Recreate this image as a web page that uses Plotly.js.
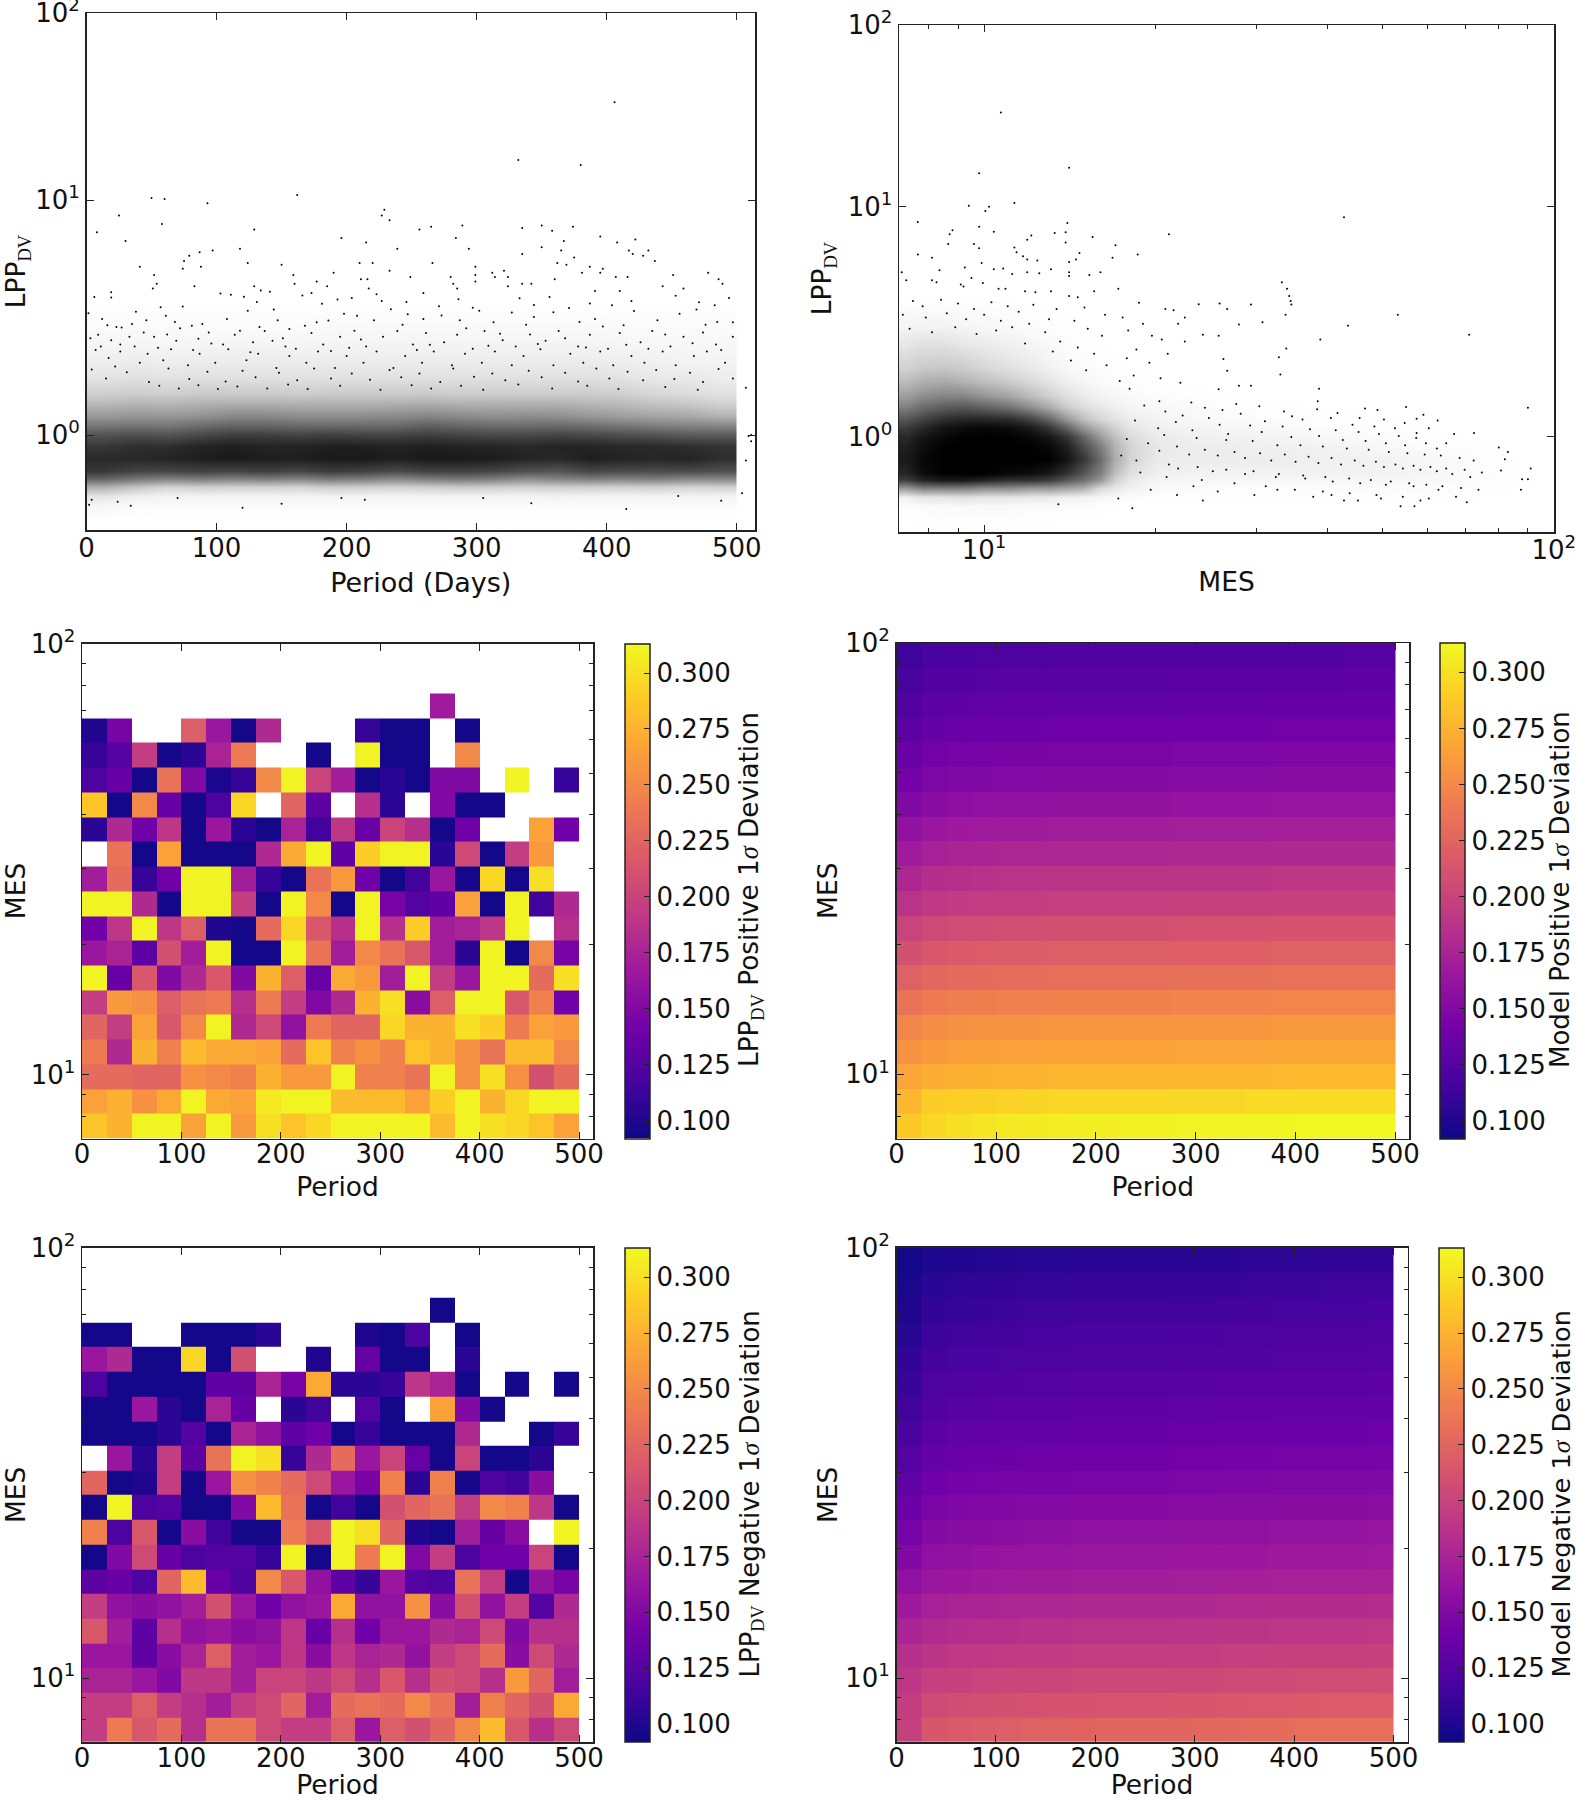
<!DOCTYPE html>
<html><head><meta charset="utf-8">
<script src="https://cdn.plot.ly/plotly-3.0.1.min.js"></script>
<style>html,body{margin:0;padding:0;background:#fff}</style></head>
<body><div id="chart" style="width:1576px;height:1800px"></div>
<script>
const periodTicks=[0,100,200,300,400,500];
const colorbarTicks=[0.1,0.125,0.15,0.175,0.2,0.225,0.25,0.275,0.3];
const periodEdges=[0,25,50,75,100,125,150,175,200,225,250,275,300,325,350,375,400,425,450,475,500];
const mesEdges=[7.1,8.1,9.25,10.55,12.04,13.74,15.68,17.9,20.4,23.3,26.6,30.4,34.7,39.5,45.1,51.5,58.8,67.1,76.6,87.4,100];
const _=null;
// observed deviation, rows listed from the top row (MES 100) to the bottom row
const observedPositive=[
[_,_,_,_,_,_,_,_,_,_,_,_,_,_,_,_,_,_,_,_],
[_,_,_,_,_,_,_,_,_,_,_,_,_,_,_,_,_,_,_,_],
[_,_,_,_,_,_,_,_,_,_,_,_,_,_,.168,_,_,_,_,_],
[.1,.145,_,_,.22,.165,.095,.18,_,_,_,.11,.095,.095,_,.095,_,_,_,_],
[.11,.125,.195,.095,.105,.175,.24,_,_,.095,_,.31,.095,.095,_,.25,_,_,_,_],
[.12,.135,.095,.235,.15,.098,.11,.25,.31,.2,.17,.095,.105,.095,.15,.15,_,.31,_,.11],
[.285,.095,.25,.135,.095,.12,.295,_,.225,.13,_,.185,.105,_,.15,.095,.095,_,_,_],
[.105,.18,.14,.19,.095,.165,.105,.095,.175,.115,.19,.135,.2,.185,.095,.14,_,_,.265,.14],
[_,.235,.095,.265,.095,.095,.095,.18,.27,.31,.13,.29,.31,.31,.105,.205,.095,.195,.26,_],
[.17,.23,.11,.14,.31,.31,.17,.11,.095,.235,.26,.14,.095,.115,.165,.095,.295,.095,.3,_],
[.31,.31,.18,.095,.31,.31,.195,.095,.31,.25,.095,.31,.145,.125,.13,.265,.095,.31,.115,.18],
[.14,.19,.31,.19,.22,.1,.095,.23,.295,.215,.185,.31,.185,.29,.17,.175,.19,.31,_,.185],
[.165,.175,.13,.21,.17,.31,.095,.095,.31,.235,.17,.25,.235,.215,.17,.105,.31,.095,.25,.145],
[.31,.135,.215,.15,.18,.215,.15,.275,.22,.135,.27,.26,.17,.31,.195,.165,.31,.31,.23,.3],
[.195,.26,.255,.22,.235,.24,.185,.24,.195,.15,.18,.275,.3,.155,.22,.31,.31,.215,.245,.14],
[.225,.195,.265,.215,.25,.31,.18,.205,.16,.24,.225,.225,.295,.275,.275,.3,.29,.24,.265,.26],
[.24,.18,.275,.245,.28,.27,.27,.265,.23,.285,.245,.255,.245,.285,.275,.255,.235,.28,.28,.25],
[.23,.23,.225,.225,.255,.25,.245,.275,.26,.26,.31,.245,.245,.235,.31,.255,.3,.255,.21,.23],
[.265,.275,.255,.27,.31,.27,.265,.305,.31,.31,.28,.28,.28,.265,.29,.31,.275,.295,.31,.31],
[.285,.275,.31,.31,.265,.31,.26,.3,.285,.295,.31,.31,.31,.31,.28,.31,.3,.295,.285,.265]];
const observedNegative=[
[_,_,_,_,_,_,_,_,_,_,_,_,_,_,_,_,_,_,_,_],
[_,_,_,_,_,_,_,_,_,_,_,_,_,_,_,_,_,_,_,_],
[_,_,_,_,_,_,_,_,_,_,_,_,_,_,.095,_,_,_,_,_],
[.095,.095,_,_,.095,.095,.095,.105,_,_,_,.1,.095,.12,_,.095,_,_,_,_],
[.165,.18,.095,.095,.295,.095,.21,_,_,.1,_,.135,.095,.095,_,.105,_,_,_,_],
[.12,.095,.095,.095,.095,.13,.13,.175,.145,.27,.105,.105,.11,.19,.175,.095,_,.095,_,.095],
[.095,.095,.165,.105,.095,.175,.135,_,.105,.115,_,.125,.095,_,.265,.15,.095,_,_,_],
[.095,.095,.095,.105,.125,.095,.175,.16,.13,.14,.095,.11,.095,.095,.095,.18,_,_,.095,.11],
[_,.165,.105,.195,.13,.235,.31,.3,.11,.18,.23,.165,.2,.135,.095,.2,.095,.095,.105,_],
[.225,.095,.1,.195,.095,.165,.255,.245,.23,.205,.165,.145,.245,.105,.245,.095,.12,.115,.155,_],
[.095,.31,.12,.125,.095,.095,.15,.28,.235,.095,.115,.095,.21,.225,.235,.195,.25,.245,.19,.095],
[.245,.12,.215,.095,.155,.115,.095,.095,.24,.215,.31,.3,.225,.1,.095,.17,.135,.155,_,.31],
[.095,.15,.205,.135,.12,.125,.125,.11,.31,.095,.31,.24,.31,.15,.195,.12,.14,.14,.2,.095],
[.13,.135,.12,.225,.28,.135,.12,.25,.215,.16,.13,.11,.165,.125,.12,.235,.195,.095,.16,.145],
[.195,.16,.155,.16,.17,.21,.165,.14,.16,.165,.27,.16,.16,.255,.155,.21,.16,.195,.125,.18],
[.215,.17,.13,.185,.16,.165,.155,.16,.19,.135,.185,.14,.165,.165,.18,.175,.205,.15,.185,.185],
[.165,.165,.13,.155,.175,.22,.17,.165,.19,.155,.19,.175,.18,.16,.195,.205,.23,.155,.205,.18],
[.175,.175,.165,.15,.19,.19,.17,.2,.2,.19,.205,.185,.215,.185,.21,.205,.185,.26,.225,.17],
[.195,.195,.22,.195,.185,.17,.195,.205,.225,.17,.23,.235,.23,.25,.235,.17,.245,.225,.21,.27],
[.195,.24,.215,.23,.185,.235,.235,.205,.195,.195,.22,.165,.22,.21,.225,.25,.28,.215,.185,.205]];
const modelPositive=[
[.114,.118,.119,.12,.121,.121,.122,.122,.122,.122,.122,.123,.123,.123,.124,.124,.124,.124,.125,.125],
[.118,.123,.124,.125,.126,.126,.127,.127,.127,.127,.127,.128,.128,.128,.129,.129,.129,.129,.13,.13],
[.123,.128,.13,.131,.132,.132,.133,.133,.133,.133,.133,.134,.134,.134,.134,.135,.135,.135,.135,.135],
[.129,.134,.136,.137,.138,.138,.139,.139,.139,.139,.139,.14,.14,.14,.14,.141,.141,.141,.141,.141],
[.136,.141,.143,.144,.145,.145,.146,.146,.146,.146,.146,.147,.147,.147,.147,.148,.148,.148,.148,.148],
[.142,.147,.149,.15,.151,.151,.152,.152,.152,.152,.152,.153,.153,.153,.153,.154,.154,.154,.154,.154],
[.15,.155,.157,.158,.159,.159,.16,.16,.16,.16,.16,.161,.161,.161,.161,.162,.162,.162,.162,.162],
[.16,.165,.167,.168,.169,.169,.17,.17,.17,.17,.17,.171,.171,.171,.171,.172,.172,.172,.172,.172],
[.168,.173,.175,.176,.177,.177,.178,.178,.178,.178,.178,.179,.179,.179,.179,.18,.18,.18,.18,.18],
[.178,.183,.185,.186,.187,.187,.188,.188,.188,.188,.188,.189,.189,.189,.189,.19,.19,.19,.19,.19],
[.187,.192,.194,.195,.196,.196,.197,.197,.197,.197,.197,.198,.198,.198,.198,.199,.199,.199,.199,.199],
[.2,.205,.207,.208,.209,.209,.21,.21,.21,.21,.21,.211,.211,.211,.211,.212,.212,.212,.212,.212],
[.21,.215,.217,.218,.219,.219,.22,.22,.22,.22,.22,.221,.221,.221,.221,.222,.222,.222,.222,.222],
[.222,.227,.229,.23,.231,.231,.232,.232,.232,.232,.232,.233,.233,.233,.233,.234,.234,.234,.234,.234],
[.235,.24,.242,.243,.244,.244,.245,.245,.245,.245,.245,.246,.246,.246,.246,.247,.247,.247,.247,.247],
[.248,.253,.255,.256,.257,.257,.258,.258,.258,.258,.258,.259,.259,.259,.259,.26,.26,.26,.26,.26],
[.256,.261,.263,.264,.265,.265,.266,.266,.266,.266,.266,.267,.267,.267,.267,.268,.268,.268,.268,.268],
[.267,.272,.274,.275,.276,.276,.277,.277,.277,.277,.277,.278,.278,.278,.278,.279,.279,.279,.279,.279],
[.278,.29,.291,.292,.293,.294,.295,.295,.295,.295,.295,.296,.296,.296,.297,.297,.298,.298,.298,.298],
[.288,.296,.3,.303,.305,.306,.307,.308,.308,.309,.309,.31,.31,.31,.311,.311,.312,.312,.312,.312]];
const modelNegative=[
[.094,.099,.1,.101,.102,.103,.103,.104,.104,.104,.104,.105,.105,.105,.106,.106,.106,.107,.107,.107],
[.097,.104,.106,.107,.108,.109,.109,.11,.11,.11,.11,.111,.111,.111,.112,.112,.112,.113,.113,.113],
[.1,.108,.11,.111,.112,.113,.113,.114,.114,.114,.114,.115,.115,.116,.116,.117,.117,.117,.117,.118],
[.103,.112,.114,.115,.116,.117,.117,.118,.118,.118,.118,.119,.119,.12,.12,.121,.121,.121,.121,.122],
[.108,.116,.118,.119,.12,.121,.121,.122,.122,.122,.122,.123,.123,.124,.124,.125,.125,.125,.125,.126],
[.111,.12,.122,.123,.124,.125,.125,.126,.126,.126,.126,.127,.127,.128,.128,.129,.129,.129,.129,.13],
[.115,.124,.126,.127,.128,.129,.129,.13,.13,.13,.13,.131,.131,.132,.132,.133,.133,.133,.133,.134],
[.119,.129,.131,.132,.133,.134,.134,.135,.135,.135,.135,.136,.136,.137,.137,.138,.138,.138,.138,.139],
[.125,.134,.136,.137,.138,.139,.139,.14,.14,.14,.14,.141,.141,.142,.142,.143,.143,.143,.143,.144],
[.131,.14,.142,.143,.144,.145,.145,.146,.146,.146,.146,.147,.147,.148,.148,.149,.149,.149,.149,.15],
[.137,.146,.148,.149,.15,.151,.151,.152,.152,.152,.152,.153,.153,.154,.154,.155,.155,.155,.155,.156],
[.143,.152,.154,.155,.156,.157,.157,.158,.158,.158,.158,.159,.159,.16,.16,.161,.161,.161,.161,.162],
[.15,.158,.16,.161,.162,.163,.163,.164,.164,.164,.164,.165,.165,.166,.166,.167,.167,.167,.167,.168],
[.158,.164,.166,.167,.168,.169,.169,.17,.17,.17,.17,.171,.171,.172,.172,.173,.173,.173,.173,.174],
[.167,.173,.175,.176,.177,.178,.178,.179,.179,.179,.179,.18,.18,.181,.181,.182,.182,.182,.182,.183],
[.176,.181,.183,.184,.185,.186,.186,.187,.187,.187,.187,.188,.188,.189,.189,.19,.19,.19,.19,.191],
[.184,.189,.191,.192,.193,.194,.194,.195,.195,.195,.195,.196,.196,.197,.197,.198,.198,.198,.198,.199],
[.19,.197,.199,.2,.201,.202,.202,.203,.203,.203,.203,.204,.204,.205,.206,.206,.207,.207,.207,.208],
[.196,.206,.208,.209,.21,.211,.212,.212,.213,.213,.213,.214,.214,.215,.216,.216,.217,.218,.218,.218],
[.198,.214,.217,.219,.22,.222,.223,.224,.225,.225,.226,.226,.227,.228,.229,.23,.232,.232,.232,.232]];
// ink coverage of the dense point clouds, read as grey level from the picture
const bandPeriod=[12.5,37.5,62.5,87.5,112.5,137.5,162.5,187.5,212.5,237.5,262.5,287.5,312.5,337.5,362.5,387.5,412.5,437.5,462.5,487.5];
const bandLpp=[.44,.5,.55,.6,.65,.7,.8,.9,1,1.1,1.2,1.35,1.5,1.75,2,2.5,3,3.6];
const bandPeriodInk=[
[0,0,0,0,0,0,0,0,0,0,0,0,0,0,0,0,0,0,0,0],
[.03,.015,.01,.01,.01,.01,.01,.01,.01,.01,.01,.01,.01,.01,.01,.01,.01,.01,.01,.01],
[.1,.06,.04,.045,.04,.04,.04,.045,.04,.04,.045,.045,.04,.04,.05,.04,.04,.045,.04,.04],
[.3,.22,.16,.18,.17,.17,.16,.19,.18,.17,.18,.2,.18,.17,.18,.18,.17,.18,.16,.17],
[.6,.52,.47,.5,.47,.49,.47,.51,.49,.45,.49,.52,.49,.43,.47,.49,.47,.49,.45,.45],
[.78,.73,.72,.74,.72,.75,.72,.76,.74,.7,.74,.74,.72,.68,.66,.72,.7,.7,.7,.68],
[.84,.84,.86,.88,.9,.88,.88,.9,.9,.88,.9,.9,.89,.86,.84,.88,.86,.85,.86,.82],
[.78,.82,.82,.86,.88,.86,.86,.88,.88,.86,.88,.86,.86,.84,.86,.86,.84,.84,.82,.8],
[.68,.7,.68,.72,.76,.76,.74,.76,.74,.74,.76,.74,.72,.72,.74,.72,.7,.68,.65,.65],
[.53,.54,.53,.57,.6,.6,.58,.58,.58,.58,.62,.59,.57,.57,.58,.56,.53,.5,.48,.47],
[.4,.42,.41,.43,.47,.47,.45,.45,.45,.46,.48,.46,.44,.45,.44,.41,.38,.36,.34,.3],
[.28,.3,.29,.31,.32,.32,.31,.31,.31,.32,.33,.31,.31,.31,.31,.29,.27,.24,.22,.18],
[.19,.2,.19,.21,.21,.21,.2,.21,.21,.21,.21,.2,.2,.2,.2,.2,.19,.16,.14,.12],
[.11,.12,.11,.12,.12,.12,.12,.12,.12,.12,.12,.12,.12,.12,.12,.12,.11,.09,.09,.07],
[.07,.08,.07,.08,.08,.08,.08,.08,.08,.08,.08,.08,.08,.08,.08,.08,.07,.06,.05,.05],
[.035,.035,.03,.035,.035,.035,.035,.04,.04,.04,.04,.04,.04,.04,.04,.04,.035,.03,.03,.03],
[.015,.015,.015,.015,.015,.015,.015,.02,.02,.02,.02,.02,.02,.02,.02,.02,.015,.015,.015,.015],
[0,0,0,0,0,0,0,0,0,0,0,0,0,0,0,0,0,0,0,0]];
const bandMes=[7.3,7.8,8.5,9.2,10,11,12,13,14,15,16,17,18,20,23,27,32,40,50,60,75,90];
const bandMesLpp=[.42,.5,.55,.6,.65,.7,.8,.9,1,1.1,1.2,1.35,1.5,1.75,2,2.5,3,4];
const bandMesInk=[
[0,0,0,0,0,0,0,0,0,0,0,0,0,0,0,0,0,0,0,0,0,0],
[.01,.015,.02,.02,.02,.02,.015,.015,.01,.01,.005,0,0,0,0,0,0,0,0,0,0,0],
[.05,.1,.1,.12,.1,.1,.08,.08,.06,.05,.03,.02,.01,.005,.005,.003,.003,.004,.005,.005,.002,0],
[.4,.5,.5,.5,.45,.45,.4,.4,.35,.3,.15,.08,.05,.02,.012,.01,.01,.012,.014,.012,.005,0],
[.75,.85,.9,.9,.85,.8,.8,.75,.65,.55,.4,.18,.08,.035,.03,.03,.03,.03,.03,.025,.01,0],
[.85,.95,1,1,1,.97,.95,.9,.8,.65,.5,.25,.12,.06,.05,.05,.05,.05,.05,.035,.012,0],
[.9,.97,1,1,1,1,1,1,.92,.78,.58,.32,.17,.08,.07,.07,.07,.06,.05,.03,.008,0],
[.88,.95,1,1,1,1,1,.97,.88,.7,.52,.3,.17,.09,.07,.07,.06,.05,.03,.015,.004,0],
[.84,.92,.97,1,1,1,.97,.92,.8,.6,.4,.25,.14,.08,.06,.055,.045,.03,.015,.006,0,0],
[.76,.84,.92,.95,.97,.95,.9,.78,.6,.4,.27,.17,.1,.06,.045,.035,.025,.012,.006,.002,0,0],
[.66,.74,.82,.85,.85,.83,.75,.6,.4,.25,.16,.11,.07,.045,.03,.02,.012,.005,.002,0,0,0],
[.5,.58,.64,.66,.62,.56,.45,.33,.2,.13,.09,.06,.04,.03,.02,.008,.003,.002,0,0,0,0],
[.38,.45,.48,.48,.42,.36,.27,.19,.12,.08,.05,.03,.02,.012,.006,.002,0,0,0,0,0,0],
[.26,.31,.33,.3,.25,.2,.15,.1,.06,.035,.02,.012,.006,.003,0,0,0,0,0,0,0,0],
[.18,.21,.22,.2,.16,.12,.09,.055,.03,.018,.01,.005,.002,0,0,0,0,0,0,0,0,0],
[.1,.12,.12,.1,.08,.06,.04,.025,.012,.006,.003,0,0,0,0,0,0,0,0,0,0,0],
[.04,.05,.05,.04,.03,.025,.012,.008,.004,0,0,0,0,0,0,0,0,0,0,0,0,0],
[0,0,0,0,0,0,0,0,0,0,0,0,0,0,0,0,0,0,0,0,0,0]];
// individually visible points: [period, LPP]
const periodPoints=[[406,26.1],[332,14.8],[380,14.1],[50,10.2],[60,10.1],[162,10.5],[93,9.7],[229,9.1],[227,8.6],[233,8.2],[25,8.6],[58,7.9],[8,7.3],[129,7.5],[256,7.5],[265,7.7],[289,7.8],[335,7.6],[350,7.8],[358,7.4],[374,7.7],[30,6.7],[284,6.9],[196,6.9],[395,7],[215,6.6],[367,6.7],[422,6.8],[408,6.6],[239,6.2],[294,6.2],[350,6.3],[365,6.1],[335,5.9],[118,6.2],[97,6.1],[87,6],[79,5.8],[75,5.5],[74,5.1],[417,6.1],[420,5.9],[432,6.1],[428,5.8],[437,5.5],[266,5.4],[375,5.7],[362,5.4],[369,5.3],[387,5.2],[124,5.4],[210,5.4],[220,5.4],[41,5.2],[88,5.2],[150,5.3],[299,5.2],[397,5.1],[381,4.9],[395,4.9],[233,5],[312,4.9],[321,5],[52,4.8],[159,4.8],[190,4.9],[249,4.7],[280,4.7],[299,4.8],[314,4.7],[324,4.7],[360,4.6],[407,4.7],[416,4.7],[451,4.8],[478,4.9],[486,4.6],[489,4.4],[54,4.4],[51,4.2],[83,4.3],[129,4.3],[160,4.4],[177,4.5],[185,4.3],[211,4.6],[216,4.6],[217,4.2],[282,4.4],[285,4.2],[299,4.5],[324,4.3],[335,4.4],[342,4.4],[443,4.3],[459,4.2],[410,4.1],[391,4.1],[19,4.05],[19,3.85],[6,3.87],[1.5,3.3],
[507,1.59],[509,.99],[511,1],[511,.94],[507,.78],[504,.565],[415,.485],[342,.513],[120,.49],[150,.51],[2,.505],[34,.5],[488,.525],[4,.53],[24,.52],[70,.54],[214,.53],[305,.54],[455,.55],[196,.54],
[103,4],[111,3.95],[121,3.88],[134,4.12],[141,4.07],[131,3.68],[166,3.93],[173,4.02],[181,3.62],[193,3.77],[204,3.83],[223,3.97],[227,3.72],[246,3.68],[259,4.02],[271,3.53],[286,3.78],[297,3.48],[333,3.82],[344,3.58],[356,3.87],[371,3.47],[387,3.63],[404,3.57],[419,3.72],[453,3.92],[471,3.67],[483,3.57],[494,3.83],
[57,3.5],[38,3.35],[46,3.08],[61,3.22],[74,3.52],[68,3.03],[81,2.92],[89,2.97],[108,3.12],[124,3.38],[144,3.42],[147,3.08],[133,2.88],[156,2.83],[177,3.02],[186,3.07],[198,3.28],[208,3.22],[221,3.08],[234,3.43],[247,3.27],[259,3.12],[273,3.23],[287,3.08],[302,3.38],[313,3.02],[327,3.32],[344,3.18],[359,3.33],[379,3.03],[391,3.12],[413,2.93],[421,3.37],[439,3.08],[456,3.28],[469,3.42],[485,3.03],[497,3.02],[12,3.12],[16,2.93],[23,2.88],[27,2.87],[35,2.97],[3,2.58],[9,2.67],[19,2.53],[26,2.43],[37,2.38],[44,2.73],[52,2.62],[62,2.68],[69,2.52],[86,2.57],[94,2.73],[105,2.43],[114,2.67],[128,2.48],[137,2.77],[151,2.58],[161,2.33],[173,2.72],[182,2.43],[195,2.62],[206,2.78],[215,2.38],[228,2.62],[239,2.77],[251,2.43],[261,2.72],[275,2.48],[285,2.67],[297,2.33],[306,2.77],[320,2.53],[330,2.38],[341,2.68],[353,2.52],[363,2.77],[378,2.38],[387,2.67],[401,2.33],[410,2.72],[426,2.48],[435,2.77],[449,2.38],[459,2.62],[474,2.73],[484,2.43],[497,2.62],
[7,2.3],[17,2.13],[26,2.27],[41,2.03],[47,2.22],[59,2.08],[65,2.32],[78,1.98],[87,2.22],[99,2.03],[109,2.32],[123,2.08],[132,2.22],[146,1.93],[156,2.17],[169,2.03],[178,2.27],[191,1.93],[200,2.17],[213,2.03],[223,2.27],[236,1.93],[245,2.17],[258,2.03],[267,2.27],[281,1.98],[291,2.22],[304,2.03],[314,2.27],[327,1.98],[336,2.17],[349,2.32],[359,1.98],[372,2.22],[382,2.03],[395,2.27],[405,1.98],[419,2.17],[429,2.03],[443,2.27],[453,1.98],[467,2.17],[477,2.27],[491,2.03],
[33,2.62],[72,2.85],[96,2.45],[118,2.78],[143,2.52],[168,2.92],[188,2.28],[211,2.55],[243,2.95],[264,2.42],[292,2.85],[318,2.7],[338,2.95],[368,2.58],[397,2.9],[415,2.42],[445,2.68],[466,2.46],[476,2.95],[11,2.38],[55,2.35],[82,2.3],[126,2.25],[153,2.38],[202,2.35],[254,2.3],[309,2.4],[347,2.44],[384,2.36],[432,2.33],[488,2.3],
[4,1.9],[15,1.74],[31,1.85],[48,1.68],[63,1.92],[79,1.73],[93,1.86],[107,1.69],[120,1.88],[130,1.76],[148,1.84],[162,1.71],[175,1.92],[188,1.74],[204,1.83],[218,1.72],[233,1.89],[242,1.76],[256,1.83],[272,1.68],[282,1.92],[298,1.77],[312,1.83],[322,1.71],[340,1.88],[350,1.76],[368,1.84],[378,1.69],[392,1.92],[402,1.74],[416,1.86],[428,1.71],[438,1.89],[452,1.73],[464,1.84],[474,1.68],[486,1.91],[497,1.74],[22,1.96],[56,1.62],[71,1.58],[86,1.63],[101,1.57],[116,1.61],[139,1.58],[155,1.64],[170,1.57],[195,1.62],[226,1.56],[250,1.63],[265,1.58],[288,1.62],[305,1.56],[332,1.64],[358,1.58],[385,1.62],[409,1.57],[445,1.6],[470,1.56]];
// individually visible points: [MES, LPP]
const mesPoints=[[10.7,25.7],[14.1,14.8],[9.8,14],[11.3,10.4],[9.4,10.1],[10.2,10],[10.05,9.6],[42.8,9],[7.65,8.6],[14,8.5],[9.8,8.2],[8.8,7.9],[8.7,7.6],[10.4,7.8],[13.3,7.7],[13.9,7.75],[21.1,7.6],[12.1,7.5],[11.9,7.2],[15.5,7.4],[13.9,7],[8.65,6.9],[9.6,6.9],[9.8,6.6],[17,6.8],[11.3,6.65],[11.4,6.35],[18.6,6.2],[7.65,6.2],[8.1,6],[11.7,6.1],[11.9,5.9],[14.7,6.3],[16.8,6],[12.4,5.85],[14.5,5.9],[14.1,5.75],[9.9,5.7],[9.25,5.45],[8.35,5.3],[7.17,5.2],[10.4,5.35],[10.8,5.4],[11.2,5.1],[11.9,5.2],[12.5,5.15],[13.1,5.35],[14.1,5.2],[14.1,5],[15.3,5.05],[16,5.2],[7.3,4.8],[8.1,4.8],[8.25,4.7],[9.1,4.6],[9.2,4.5],[9.5,4.9],[9.95,4.67],[10.6,4.4],[10.9,4.4],[11.8,4.3],[12.3,4.25],[13.1,4.3],[14.1,4.1],[14.6,4.05],[15.6,4.3],[17.2,4.4],[33.3,4.7],[34,4.4],[34.3,4.1],[34.5,3.9],[34.6,3.76],[23.8,3.77],[25.9,3.8],[26.7,3.6],[29.4,3.76],[20.8,3.6],[21.5,3.55],[18.7,3.83],[22.5,3.3],[33.8,3.4],[53.2,3.4],[21.9,3.1],[28,3.08],[30.8,3.15],[43.5,3.04],[71,2.78],[24.2,2.78],[25.8,2.75],[22.5,2.6],[38.9,2.65],[33.9,2.42],[32.9,2.22],[26.3,2.18],[33.1,1.87],[26.7,1.94],[38.7,1.62],[25.8,1.61],[28,1.67],[29.4,1.67],[90,1.34],[55,1.35],[38.5,1.43],[46.6,1.33],[49,1.31],[57.4,1.2],[59,1.25],[62.5,1.18],[66.8,1.03],[72.4,1.04],[80,.9],[83,.86],[91,.73],[82,.8],[80.7,.714],[87.9,.655],[87.5,.59],[90,.655],[70.3,.52],[56.9,.5],[53.8,.5],[42.8,.53],
[7.5,3.9],[7.8,3.7],[8.4,3.95],[9,3.8],[9.6,3.6],[10.3,3.85],[11,3.7],[11.5,3.5],[12.2,3.75],[13.4,3.6],[15,3.65],[16.3,3.4],[17.5,3.3],[19,3.1],[17.9,2.9],[19.7,2.75],[20.5,2.65],[18.5,2.4],[15.2,2.95],[14.4,3.2],[13,3.25],[12,3.1],[11.2,3],[16.1,2.75],[21,2.3],[19.5,2.1],[17.8,2.2],[18.3,1.85],[20.4,1.8],[18,1.62],[17.3,1.75],[22.1,1.72],[16.4,2.05],[15.6,2.3],[14.6,2.45],[13.6,2.6],[14.2,2.15],[15.1,1.95],[7.2,3.4],[7.9,3.3],[8.6,3.45],[9.3,3.25],[10,3.4],[10.7,3.2],[7.4,2.95],[8.1,2.85],[8.9,3],[9.7,2.8],[10.5,2.9],[12.8,2.85],[13.2,2.35],[11.8,2.55],
[19.1,1.37],[20.3,1.43],[20.8,1.29],[22.3,1.24],[23.1,1.41],[24.4,1.34],[24.8,1.21],[26.2,1.31],[27.7,1.39],[28.2,1.26],[30.4,1.36],[31.1,1.17],[33.6,1.29],[34.7,1.23],[36.2,1.19],[38.4,1.32],[40.6,1.21],[41.7,1.27],[44.3,1.13],[45.6,1.21],[48.4,1.11],[50.3,1.19],[52.6,1.09],[54.7,1.15],[57.4,1.04],[60.3,1.09],[18.4,1.18],[20.2,1.09],[21.7,1.16],[23.2,1.07],[25.9,1.13],[26.8,1.03],[29.3,1.12],[30.7,1.05],[33.4,1.11],[34.6,1],[37.3,1.08],[38.7,1.01],[41.4,1.07],[42.6,.97],[45.4,1.05],[46.7,.96],[49.3,1.03],[50.7,.94],[53.4,1.01],[54.8,.92],[57.3,.99],[59.6,.94],[62.3,.89],[64.7,.94],[17.8,.98],[19.4,.94],[20.7,1.02],[21.8,.91],[23.6,.99],[24.4,.88],[26.6,.97],[27.5,.86],[29.6,.96],[30.5,.85],[32.7,.92],[33.7,.84],[35.9,.92],[37.1,.82],[39.3,.91],[40.7,.81],[43.3,.89],[44.7,.79],[47.3,.88],[48.7,.78],[51.3,.86],[52.7,.76],[55.3,.85],[56.7,.75],[59.3,.84],[60.7,.74],[63.3,.83],[64.7,.73],[68.3,.81],[69.7,.72],[72.3,.79],[74.7,.7],[17.4,.83],[18.5,.79],[20.3,.87],[21.1,.76],[22.9,.84],[23.7,.74],[25.7,.83],[26.6,.72],[28.7,.81],[29.7,.71],[31.9,.79],[32.9,.69],[35.2,.78],[36.3,.68],[38.6,.77],[39.7,.67],[42.3,.76],[43.7,.66],[46.3,.75],[47.7,.65],[50.3,.74],[51.7,.64],[54.3,.73],[55.7,.63],[58.3,.72],[59.7,.62],[62.3,.71],[63.7,.61],[66.3,.69],[68.7,.6],[71.3,.67],[73.7,.59],
[18.8,.7],[20.9,.67],[21.9,.73],[24.1,.65],[25.2,.71],[27.5,.63],[28.7,.69],[31.2,.61],[32.5,.67],[35.1,.59],[36.6,.66],[39.3,.58],[40.9,.64],[43.8,.57],[45.7,.63],[48.8,.56],[50.7,.62],[54.3,.55],[56.7,.61],[60.3,.54],[62.7,.59],[67.3,.55],[19.6,.59],[23.3,.61],[25.7,.58],[29.8,.56],[32.7,.59],[37.8,.55],[40.7,.56],[45.3,.53],[49.7,.54],[58.3,.53],[17.2,.54],[21.8,.56],[24.2,.53],[18.2,.49],[13.5,.51]];
const plasma=[[0,'#0d0887'],[.111,'#46039f'],[.222,'#7201a8'],[.333,'#9c179e'],[.444,'#bd3786'],[.556,'#d8576b'],[.667,'#ed7953'],[.778,'#fb9f3a'],[.889,'#fdca26'],[1,'#f0f921']];
const inkScale=[[0,'#ffffff'],[1,'#000000']];
const W=1576,H=1800,INK='#111',FS=26,TS=26.5;
const dom=(a,b,S)=>[a/S,b/S];
const yd=(t,b)=>[1-b/H,1-t/H];
const rev=m=>m.slice().reverse();
const dv='LPP<sub><span style="font-family:Liberation Serif">DV</span></sub>';
const sigma='1<span style="font-family:Liberation Serif"><i>σ</i></span>';
const minorMes=[8,9,20,30,40,50,60,70,80,90];
const axisBase={showgrid:false,zeroline:false,showline:true,mirror:'allticks',linecolor:'#222',linewidth:1.5,ticks:'inside',ticklen:7,tickwidth:1,tickcolor:'#222',ticklabeloverflow:'allow',tickfont:{family:'DejaVu Sans',size:FS,color:INK}};
const titleOf=(t,s,size)=>({text:t,standoff:s,font:{family:'DejaVu Sans',size:size||TS,color:INK}});
const lppAxis=(id,d,range,st)=>({...axisBase,anchor:id,domain:d,type:'log',range:range,tickmode:'array',tickvals:[1,10,Math.pow(10,range[1]-.0005)],ticktext:['10<sup>0</sup>','10<sup>1</sup>','10<sup>2</sup>'],title:titleOf(dv,st)});
const periodAxis=(id,d,title,st,lift,size)=>({...axisBase,anchor:id,domain:d,range:[0,514],tickmode:'array',tickvals:periodTicks,ticklabelstandoff:lift,title:titleOf(title,st,size)});
const mesAxis=(id,d,st)=>({...axisBase,anchor:id,domain:d,type:'log',range:[Math.log10(7.1),2],tickmode:'array',tickvals:[10,99.9],ticktext:['10<sup>1</sup>','10<sup>2</sup>'],minor:{tickmode:'array',tickvals:minorMes,ticks:'inside',ticklen:4,tickcolor:'#222'},title:titleOf('MES',st)});
const layout={width:W,height:H,margin:{l:0,r:0,t:0,b:0},paper_bgcolor:'#fff',plot_bgcolor:'#fff',showlegend:false,
 xaxis:periodAxis('y',dom(86.5,755,W),'Period (Days)',11,-6,27),
 yaxis:lppAxis('x',yd(13,530),[-0.404,1.796],13),
 xaxis2:{...axisBase,anchor:'y2',domain:dom(899,1554,W),type:'log',range:[Math.log10(7.09),2],tickmode:'array',tickvals:[10,99.9],ticktext:['10<sup>1</sup>','10<sup>2</sup>'],ticklabelstandoff:-6,minor:{tickmode:'array',tickvals:minorMes,ticks:'inside',ticklen:4,tickcolor:'#222'},title:titleOf('MES',8)},
 yaxis2:lppAxis('x2',yd(25,532),[-0.413,1.79],8),
 xaxis3:periodAxis('y3',dom(82,593,W),'Period',9,-8),
 yaxis3:mesAxis('x3',yd(643.5,1138.5),13),
 xaxis4:periodAxis('y4',dom(896.5,1409,W),'Period',9,-8),
 yaxis4:mesAxis('x4',yd(643,1138.5),0),
 xaxis5:periodAxis('y5',dom(82,593,W),'Period',19,-8),
 yaxis5:mesAxis('x5',yd(1247.7,1742),13),
 xaxis6:periodAxis('y6',dom(896.5,1407.5,W),'Period',19,-8),
 yaxis6:mesAxis('x6',yd(1247.7,1742),0),
 annotations:[[751,890,dv+' Positive '+sigma+' Deviation',26.3],[751,1494.5,dv+' Negative '+sigma+' Deviation',26],[1560,890,'Model Positive '+sigma+' Deviation',26],[1560,1494.5,'Model Negative '+sigma+' Deviation',25.6]].map(a=>({xref:'paper',yref:'paper',x:a[0]/W,y:1-a[1]/H,text:a[2],textangle:-90,showarrow:false,xanchor:'center',yanchor:'middle',font:{family:'DejaVu Sans',size:a[3],color:INK}}))
};
const ink=(x,y,z,ax,ay)=>({type:'heatmap',x:x,y:y,z:z,xaxis:ax,yaxis:ay,colorscale:inkScale,zmin:0,zmax:1,showscale:false,zsmooth:'best',hoverinfo:'skip'});
const dots=(p,ax,ay)=>({type:'scatter',mode:'markers',x:p.map(d=>d[0]),y:p.map(d=>d[1]),xaxis:ax,yaxis:ay,marker:{color:'#000',size:2,line:{width:0}}});
const grid=(z,ax,ay,cx,t,b)=>({type:'heatmap',x:periodEdges,y:mesEdges,z:rev(z),xaxis:ax,yaxis:ay,colorscale:plasma,zmin:.092,zmax:.3132,hoverongaps:false,
 colorbar:{x:cx/W,xanchor:'left',xpad:0,ypad:0,y:1-(t+b)/2/H,yanchor:'middle',lenmode:'fraction',len:(b-t)/H,thicknessmode:'pixels',thickness:25,outlinewidth:1.5,outlinecolor:'#222',tickmode:'array',tickvals:colorbarTicks,tickformat:'.3f',ticks:'inside',ticklen:6,tickcolor:'#222',tickfont:{family:'DejaVu Sans',size:FS,color:INK}}});
const data=[
 ink(bandPeriod,bandLpp,bandPeriodInk,'x','y'),dots(periodPoints,'x','y'),
 ink(bandMes,bandMesLpp,bandMesInk,'x2','y2'),dots(mesPoints,'x2','y2'),
 grid(observedPositive,'x3','y3',625,643.5,1138.5),
 grid(modelPositive,'x4','y4',1440,643,1138.5),
 grid(observedNegative,'x5','y5',625,1247.7,1742),
 grid(modelNegative,'x6','y6',1439,1247.7,1742)];
Plotly.newPlot('chart',data,layout,{displayModeBar:false,staticPlot:true});
</script></body></html>
